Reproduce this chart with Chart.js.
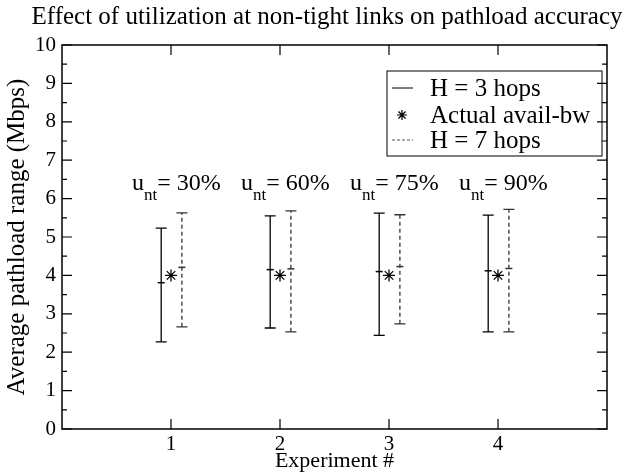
<!DOCTYPE html>
<html lang="en">
<head>
  <meta charset="UTF-8" />
  <title>Effect of utilization at non-tight links on pathload accuracy</title>
  <script src="https://cdn.jsdelivr.net/npm/chart.js"></script>
  <style>
    html, body { margin: 0; padding: 0; background: #fff; }
    #wrap { width: 625px; height: 474px; }
  </style>
</head>
<body>
  <div id="wrap"><canvas id="chart" width="625" height="474"></canvas></div>

  <script>
    // data
    const experiments = [1, 2, 3, 4];
    const utilization = ['30%', '60%', '75%', '90%'];
    const h3Low  = [2.27, 2.63, 2.44, 2.53];
    const h3Mid  = [3.81, 4.15, 4.10, 4.12];
    const h3High = [5.23, 5.55, 5.62, 5.57];
    const h7Low  = [2.66, 2.53, 2.74, 2.53];
    const h7Mid  = [4.21, 4.17, 4.23, 4.18];
    const h7High = [5.63, 5.68, 5.58, 5.72];
    const actualBw = [4.0, 4.0, 4.0, 4.0];
    const yTicks = [0, 1, 2, 3, 4, 5, 6, 7, 8, 9, 10];

    const FONT = "'Liberation Serif', 'Times New Roman', serif";
    const H3_SHIFT = -0.09;
    const H7_SHIFT = 0.10;

    // error bars + frame + legend + annotations
    const paperPlugin = {
      id: 'paper',
      afterDraw(chart) {
        const ctx = chart.ctx;
        const x = chart.scales.x, y = chart.scales.y;
        const a = chart.chartArea;
        ctx.save();

        // frame
        ctx.strokeStyle = '#000';
        ctx.lineWidth = 1.5;
        ctx.strokeRect(a.left, a.top, a.right - a.left, a.bottom - a.top);

        // inward ticks, mirrored
        ctx.lineWidth = 1.2;
        for (let v = 0; v <= 10; v += 0.5) {
          const py = y.getPixelForValue(v);
          const len = Number.isInteger(v) ? 10 : 5;
          ctx.beginPath();
          ctx.moveTo(a.left, py); ctx.lineTo(a.left + len, py);
          ctx.moveTo(a.right, py); ctx.lineTo(a.right - len, py);
          ctx.stroke();
        }
        experiments.forEach(e => {
          const px = x.getPixelForValue(e);
          ctx.beginPath();
          ctx.moveTo(px, a.bottom); ctx.lineTo(px, a.bottom - 10);
          ctx.moveTo(px, a.top); ctx.lineTo(px, a.top + 10);
          ctx.stroke();
        });

        // error bars
        chart.data.datasets.forEach(ds => {
          if (!ds.errorBar) return;
          ctx.strokeStyle = ds.borderColor;
          ctx.lineWidth = 1.3;
          ds.data.forEach(p => {
            const px = x.getPixelForValue(p.x);
            const lo = y.getPixelForValue(p.low);
            const hi = y.getPixelForValue(p.high);
            ctx.setLineDash(ds.dash || []);
            ctx.beginPath();
            ctx.moveTo(px, lo); ctx.lineTo(px, hi);
            ctx.stroke();
            ctx.setLineDash([]);
            ctx.beginPath();
            ctx.moveTo(px - 5.5, lo); ctx.lineTo(px + 5.5, lo);
            ctx.moveTo(px - 5.5, hi); ctx.lineTo(px + 5.5, hi);
            ctx.stroke();
          });
        });
        ctx.setLineDash([]);

        // u_nt annotations
        ctx.fillStyle = '#000';
        ctx.textBaseline = 'alphabetic';
        ctx.textAlign = 'left';
        utilization.forEach((u, i) => {
          const cx = x.getPixelForValue(experiments[i] + 0.05);
          const py = y.getPixelForValue(6.22);
          ctx.font = '24px ' + FONT;
          const uw = ctx.measureText('u').width;
          const rest = '= ' + u;
          const rw = ctx.measureText(rest).width;
          ctx.font = '17px ' + FONT;
          const nw = ctx.measureText('nt').width;
          let px = cx - (uw + nw + rw) / 2;
          ctx.font = '24px ' + FONT;
          ctx.fillText('u', px, py);
          ctx.font = '17px ' + FONT;
          ctx.fillText('nt', px + uw, py + 10);
          ctx.font = '24px ' + FONT;
          ctx.fillText(rest, px + uw + nw, py);
        });

        // title and y axis title
        ctx.font = '25px ' + FONT;
        ctx.textAlign = 'center';
        ctx.textBaseline = 'middle';
        ctx.fillText('Effect of utilization at non-tight links on pathload accuracy', 327, 17);
        ctx.save();
        ctx.translate(17, (a.top + a.bottom) / 2);
        ctx.rotate(-Math.PI / 2);
        ctx.fillText('Average pathload range (Mbps)', 0, 0);
        ctx.restore();

        // legend
        const lx = 387, ly = 71, lw = 215, lh = 85;
        ctx.lineWidth = 1;
        ctx.strokeStyle = '#000';
        ctx.strokeRect(lx, ly, lw, lh);
        ctx.textAlign = 'left';
        ctx.font = '25px ' + FONT;
        const rows = [
          { label: 'H = 3 hops', kind: 'solid', yy: 88 },
          { label: 'Actual avail-bw', kind: 'star', yy: 115 },
          { label: 'H = 7 hops', kind: 'dash', yy: 140 }
        ];
        rows.forEach(r => {
          if (r.kind === 'star') {
            ctx.strokeStyle = '#000';
            ctx.fillStyle = '#000';
            ctx.lineWidth = 1.2;
            Chart.helpers.drawPoint(ctx, { pointStyle: 'star', radius: 5, rotation: 0, borderWidth: 1.2 }, 402, r.yy);
          } else {
            ctx.beginPath();
            ctx.lineWidth = 1;
            ctx.strokeStyle = r.kind === 'dash' ? '#555' : '#000';
            ctx.setLineDash(r.kind === 'dash' ? [3, 2] : []);
            ctx.moveTo(392, r.yy); ctx.lineTo(413, r.yy);
            ctx.stroke();
            ctx.setLineDash([]);
          }
          ctx.fillStyle = '#000';
          ctx.fillText(r.label, 430, r.yy + 1);
        });

        ctx.restore();
      }
    };

    const ctx = document.getElementById('chart').getContext('2d');
    new Chart(ctx, {
      type: 'scatter',
      data: {
        datasets: [
          {
            label: 'H = 3 hops',
            errorBar: true,
            data: experiments.map((e, i) => ({ x: e + H3_SHIFT, y: h3Mid[i], low: h3Low[i], high: h3High[i] })),
            borderColor: '#000',
            backgroundColor: '#000',
            pointStyle: 'line',
            pointRadius: 3.5,
            borderWidth: 1.5
          },
          {
            label: 'Actual avail-bw',
            data: experiments.map((e, i) => ({ x: e, y: actualBw[i] })),
            borderColor: '#000',
            backgroundColor: '#000',
            pointStyle: 'star',
            pointRadius: 6,
            borderWidth: 1.3
          },
          {
            label: 'H = 7 hops',
            errorBar: true,
            dash: [4, 3],
            data: experiments.map((e, i) => ({ x: e + H7_SHIFT, y: h7Mid[i], low: h7Low[i], high: h7High[i] })),
            borderColor: '#333',
            backgroundColor: '#333',
            pointStyle: 'line',
            pointRadius: 3.5,
            borderWidth: 1.5
          }
        ]
      },
      options: {
        responsive: false,
        animation: false,
        layout: { padding: { top: 45, right: 18, left: 0, bottom: 0 } },
        plugins: {
          legend: { display: false },
          tooltip: { enabled: false },
          title: { display: false }
        },
        scales: {
          x: {
            type: 'linear',
            min: 0,
            max: 5,
            afterFit: s => { s.height = 45; },
            afterBuildTicks: s => { s.ticks = experiments.map(v => ({ value: v })); },
            grid: { display: false, drawTicks: false },
            border: { display: false },
            ticks: { color: '#000', font: { family: FONT, size: 21 }, padding: 3, maxRotation: 0 },
            title: { display: true, text: 'Experiment #', color: '#000', font: { family: FONT, size: 22 }, padding: { top: 0, bottom: 0 } }
          },
          y: {
            min: 0,
            max: 10,
            afterFit: s => { s.width = 62; },
            afterBuildTicks: s => { s.ticks = yTicks.map(v => ({ value: v })); },
            grid: { display: false, drawTicks: false },
            border: { display: false },
            ticks: { color: '#000', font: { family: FONT, size: 21 }, padding: 6 }
          }
        }
      },
      plugins: [paperPlugin]
    });
  </script>
</body>
</html>
